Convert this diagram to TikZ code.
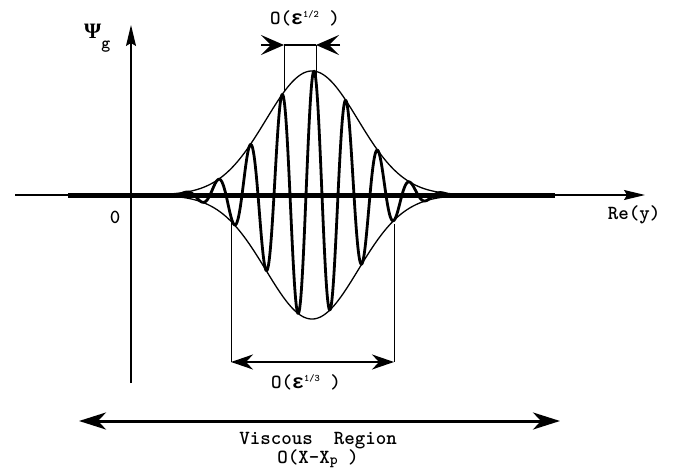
\documentclass[tikz,border=0pt]{standalone}
\usepackage{fontspec}
\usetikzlibrary{arrows.meta,positioning}
\newfontfamily\psifont{Liberation Serif}
\newfontfamily\epsfont{Liberation Mono}
\newcommand{\lblfont}{\fontsize{20}{23}\selectfont\ttfamily\bfseries}

\begin{document}
\begin{tikzpicture}[x=1pt, y=-1pt,
  lbl/.style={font=\lblfont, inner sep=0pt},
  axisline/.style={line width=1.2pt, -{Stealth[length=21pt, width=10pt, inset=3pt]}},
  thinline/.style={line width=1pt},
  wave/.style={line width=2.8pt, line join=round},
  env/.style={line width=1.3pt},
  headin/.style={line width=2.5pt, -{Stealth[length=23pt, width=20pt, inset=10pt]}},
  dimarr/.style={line width=2pt, {Stealth[length=22pt, width=15pt, inset=7pt]}-{Stealth[length=22pt, width=15pt, inset=7pt]}},
  widearr/.style={line width=3pt, {Stealth[length=27pt, width=17pt, inset=8pt]}-{Stealth[length=27pt, width=17pt, inset=8pt]}}
]
  \useasboundingbox (0,0) rectangle (673,471);

  % axes
  \coordinate (xstart) at (15,195);
  \coordinate (xend) at (645,195);
  \coordinate (ybot) at (131,383);
  \coordinate (ytop) at (131,25);
  \coordinate (barL) at (68,195);
  \coordinate (barR) at (555,195);
  \draw[axisline] (xstart) -- (xend);
  \draw[axisline] (ybot) -- (ytop);

  \node[lbl, anchor=base west] (psi) at (84,38) {{\psifont\bfseries\fontsize{22}{22}\selectfont Ψ}\raisebox{-10pt}{\fontsize{17}{17}\selectfont g}};
  \node[lbl] (zero) at (115,217) {0};
  \node[lbl] (rey) at (634,215) {Re(y)};

  % wave packet and its envelope
  \draw[env] plot[domain=168:472, samples=300] (\x, {195 - 124*exp(-0.5*((\x-312)/46)^2)});
  \draw[env] plot[domain=168:472, samples=300] (\x, {195 + 124*exp(-0.5*((\x-312)/46)^2)});
  \draw[wave] plot[domain=172:468, samples=700] (\x, {195 - 124*exp(-0.5*((\x-312)/46)^2)*cos(11.25*(\x-314))});
  \draw[line width=5pt] (barL) -- (barR);

  % O(eps^1/2) marker
  \coordinate (hl) at (261,45);
  \coordinate (hL) at (284,45);
  \coordinate (hR) at (316,45);
  \coordinate (hr) at (340,45);
  \coordinate (pkL) at (284,91);
  \coordinate (pkR) at (316,76);
  \draw[thinline] (hL) -- (pkL);
  \draw[thinline] (hR) -- (pkR);
  \draw[line width=2.5pt] (hL) -- (hR);
  \draw[headin] (hl) -- (hL);
  \draw[headin] (hr) -- (hR);
  \node[lbl] (halflbl) at (305,18) {O({\epsfont ε}\raisebox{7pt}{\fontsize{10}{10}\selectfont 1/2} )};

  % O(eps^1/3) marker
  \coordinate (tl) at (231,222);
  \coordinate (tr) at (394,224);
  \coordinate (bl) at (231,362);
  \coordinate (br) at (394,362);
  \draw[thinline] (tl) -- (bl);
  \draw[thinline] (tr) -- (br);
  \draw[dimarr] (bl) -- (br);
  \node[lbl] (thirdlbl) at (306,382) {O({\epsfont ε}\raisebox{7pt}{\fontsize{10}{10}\selectfont 1/3} )};

  % viscous region
  \coordinate (vl) at (79,421);
  \coordinate (vr) at (560,421);
  \draw[widearr] (vl) -- (vr);
  \node[lbl] (visc) at (318,441) {Viscous\ \ Region};
  \node[lbl] (visco) at (318,459) {O(X-X\raisebox{-1pt}{\fontsize{15}{15}\selectfont p} )};
\end{tikzpicture}
\end{document}
